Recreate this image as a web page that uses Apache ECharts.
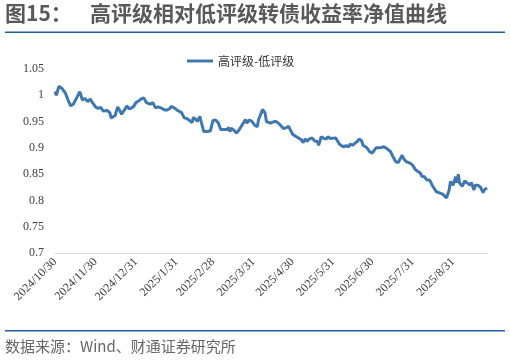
<!DOCTYPE html>
<html>
<head>
<meta charset="utf-8">
<script src="https://cdn.jsdelivr.net/npm/echarts@6/dist/echarts.min.js"></script>
<style>
html,body{margin:0;padding:0;background:#fff;}
#c{width:510px;height:361px;}
</style>
</head>
<body>
<div id="c"></div>
<script>
const seriesName = '高评级-低评级';
const startDate = '2024/10/30';
const endDate = '2025/9/26';
const tickLabels = ['2024/10/30','2024/11/30','2024/12/31','2025/1/31','2025/2/28','2025/3/31','2025/4/30','2025/5/31','2025/6/30','2025/7/31','2025/8/31'];
const yTicks = [0.7, 1.05, 0.05];

const dates = [
'2024/10/30','2024/10/31','2024/11/2','2024/11/4','2024/11/7','2024/11/9','2024/11/11','2024/11/13','2024/11/16','2024/11/18',
'2024/11/20','2024/11/22','2024/11/24','2024/11/26','2024/11/28','2024/11/30','2024/12/2','2024/12/4','2024/12/6','2024/12/9',
'2024/12/11','2024/12/12','2024/12/15','2024/12/17','2024/12/19','2024/12/20','2024/12/23','2024/12/24','2024/12/26','2024/12/29',
'2024/12/31','2025/1/2','2025/1/4','2025/1/6','2025/1/8','2025/1/9','2025/1/11','2025/1/13','2025/1/15','2025/1/17',
'2025/1/20','2025/1/22','2025/1/24','2025/1/26','2025/1/27','2025/1/30','2025/2/1','2025/2/4','2025/2/6','2025/2/8',
'2025/2/10','2025/2/12','2025/2/13','2025/2/15','2025/2/16','2025/2/18','2025/2/19','2025/2/21','2025/2/23','2025/2/26',
'2025/2/28','2025/3/2','2025/3/4','2025/3/6','2025/3/8','2025/3/11','2025/3/12','2025/3/13','2025/3/14','2025/3/16',
'2025/3/18','2025/3/20','2025/3/22','2025/3/24','2025/3/25','2025/3/26','2025/3/28','2025/3/30','2025/4/1','2025/4/3',
'2025/4/4','2025/4/6','2025/4/7','2025/4/9','2025/4/10','2025/4/13','2025/4/15','2025/4/17','2025/4/18','2025/4/20',
'2025/4/23','2025/4/25','2025/4/27','2025/4/28','2025/4/30','2025/5/3','2025/5/5','2025/5/7','2025/5/8','2025/5/10',
'2025/5/11','2025/5/13','2025/5/15','2025/5/17','2025/5/19','2025/5/20','2025/5/22','2025/5/24','2025/5/26','2025/5/27',
'2025/5/29','2025/5/30','2025/6/2','2025/6/3','2025/6/5','2025/6/8','2025/6/10','2025/6/12','2025/6/13','2025/6/15',
'2025/6/17','2025/6/19','2025/6/20','2025/6/22','2025/6/23','2025/6/26','2025/6/28','2025/6/30','2025/7/1','2025/7/3',
'2025/7/6','2025/7/9','2025/7/11','2025/7/14','2025/7/16','2025/7/18','2025/7/20','2025/7/21','2025/7/23','2025/7/24',
'2025/7/26','2025/7/29','2025/7/31','2025/8/2','2025/8/4','2025/8/6','2025/8/7','2025/8/9','2025/8/11','2025/8/12',
'2025/8/13','2025/8/15','2025/8/16','2025/8/18','2025/8/20','2025/8/23','2025/8/26','2025/8/28','2025/8/29','2025/8/31',
'2025/9/2','2025/9/3','2025/9/4','2025/9/5','2025/9/7','2025/9/9','2025/9/11','2025/9/13','2025/9/14','2025/9/16',
'2025/9/17','2025/9/19','2025/9/21','2025/9/23','2025/9/24','2025/9/26'
];

const values = [
1.007,1.000,1.017,1.014,1.004,0.991,0.980,0.983,0.997,1.007,
0.991,0.994,0.988,0.993,0.985,0.978,0.975,0.977,0.970,0.971,
0.967,0.957,0.961,0.978,0.969,0.964,0.975,0.980,0.974,0.978,
0.986,0.989,0.993,0.995,0.986,0.989,0.983,0.986,0.976,0.978,
0.975,0.972,0.972,0.975,0.979,0.975,0.971,0.967,0.957,0.956,
0.952,0.948,0.958,0.954,0.950,0.960,0.950,0.931,0.931,0.932,
0.952,0.953,0.948,0.935,0.935,0.935,0.939,0.931,0.937,0.934,
0.928,0.934,0.942,0.950,0.954,0.947,0.953,0.950,0.943,0.940,
0.954,0.966,0.973,0.966,0.950,0.947,0.949,0.951,0.953,0.945,
0.937,0.938,0.941,0.940,0.926,0.921,0.918,0.915,0.910,0.917,
0.912,0.917,0.919,0.913,0.912,0.905,0.921,0.918,0.917,0.921,
0.918,0.921,0.919,0.915,0.907,0.902,0.904,0.902,0.907,0.905,
0.909,0.913,0.917,0.913,0.905,0.900,0.893,0.890,0.893,0.900,
0.900,0.902,0.899,0.893,0.883,0.874,0.872,0.877,0.886,0.880,
0.874,0.871,0.867,0.859,0.855,0.852,0.846,0.845,0.839,0.836,
0.839,0.829,0.826,0.817,0.815,0.812,0.805,0.820,0.836,0.829,
0.845,0.834,0.850,0.833,0.827,0.837,0.833,0.829,0.834,0.820,
0.829,0.829,0.825,0.815,0.820,0.824
];

// build calendar-day category axis
function fmt(d){return d.getFullYear()+'/'+(d.getMonth()+1)+'/'+d.getDate();}
const categories = [];
(function(){
  const p1 = startDate.split('/').map(Number), p2 = endDate.split('/').map(Number);
  let d = new Date(p1[0], p1[1]-1, p1[2]);
  const e = new Date(p2[0], p2[1]-1, p2[2]);
  while (d <= e) { categories.push(fmt(d)); d = new Date(d.getFullYear(), d.getMonth(), d.getDate()+1); }
})();

const chart = echarts.init(document.getElementById('c'), null, {renderer:'canvas'});
const serif = '"Liberation Serif","Times New Roman",serif';
chart.setOption({
  animation: false,
  backgroundColor: '#fff',
  graphic: [
    {type:'text', left:5, top:3, style:{text:'图15：', font:'bold 21px "Noto Sans CJK SC"', fill:'#595959'}},
    {type:'text', left:90, top:3, style:{text:'高评级相对低评级转债收益率净值曲线', font:'bold 21px "Noto Sans CJK SC"', fill:'#595959'}},
    {type:'rect', shape:{x:5, y:31.5, width:500, height:1.5}, style:{fill:'#1f5fa8'}},
    {type:'rect', shape:{x:5, y:330, width:500, height:1.5}, style:{fill:'#1f5fa8'}},
    {type:'text', left:5, top:339, style:{text:'数据来源：Wind、财通证券研究所', font:'15px "Noto Sans CJK SC"', fill:'#666'}}
  ],
  legend: {
    left: 182, top: 50,
    icon: 'rect', itemWidth: 26, itemHeight: 3,
    textStyle: {fontFamily:'"Noto Sans CJK SC"', fontSize: 12, color:'#333'},
    data: [seriesName]
  },
  grid: {left:55, right:23, top:69, bottom:108, containLabel:false},
  xAxis: {
    type: 'category',
    data: categories,
    boundaryGap: false,
    axisLine: {lineStyle:{color:'#d9d9d9', width:1}},
    axisTick: {show:false},
    axisLabel: {
      interval: function(i, v){ return tickLabels.indexOf(v) >= 0; },
      rotate: 45,
      margin: 7,
      fontFamily: serif, fontSize: 12, color:'#404040'
    },
    splitLine: {show:false}
  },
  yAxis: {
    type: 'value',
    min: yTicks[0], max: yTicks[1], interval: yTicks[2],
    axisLine: {show:false},
    axisTick: {show:false},
    splitLine: {show:false},
    axisLabel: {fontFamily: serif, fontSize: 12, color:'#404040', margin: 11}
  },
  series: [{
    name: seriesName,
    type: 'line',
    symbol: 'none',
    data: dates.map((d,i)=>[d, values[i]]),
    lineStyle: {color:'#3f78b0', width: 3},
    itemStyle: {color:'#3f78b0'}
  }]
});
</script>
</body>
</html>
